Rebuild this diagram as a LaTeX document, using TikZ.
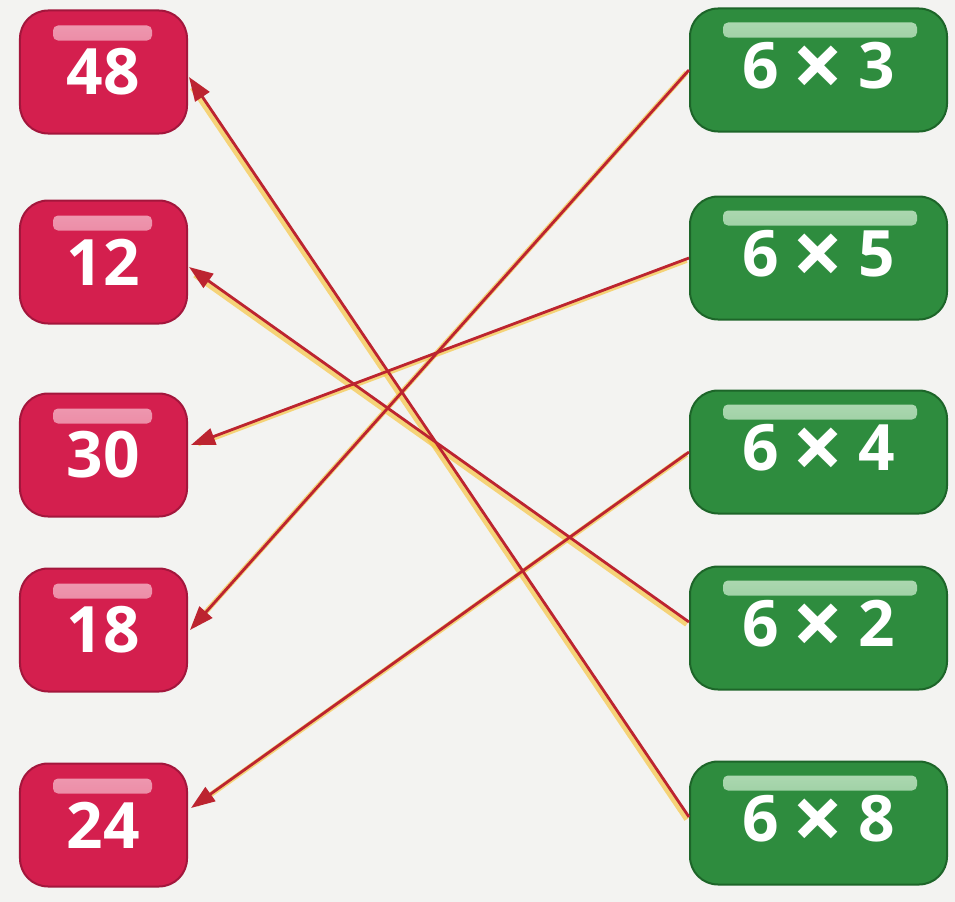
\documentclass[tikz,border=0pt]{standalone}
\usepackage{fontspec}
\setmainfont{Open Sans}
\usetikzlibrary{arrows.meta,calc}
\definecolor{bgc}{HTML}{F3F3F1}
\definecolor{redbox}{HTML}{D41F4E}
\definecolor{rededge}{HTML}{A3163C}
\definecolor{redstripe}{HTML}{F0A0B6}
\definecolor{greenbox}{HTML}{2E8C3E}
\definecolor{greenedge}{HTML}{1D6529}
\definecolor{greenstripe}{HTML}{B4DDB8}
\definecolor{linered}{HTML}{BC2430}
\definecolor{glowc}{HTML}{F6C646}
\newcommand{\bigtimes}{\hspace{0.22em}\raisebox{-0.15em}{\fontseries{sb}\selectfont\scalebox{1.4}{×}}\hspace{0.22em}}
\tikzset{
  boxbase/.style={rectangle, rounded corners=28bp, line width=2bp, text=white,
    font=\bfseries\fontsize{64bp}{70bp}\selectfont, minimum height=123bp, inner sep=0pt},
  numbox/.style={boxbase, fill=redbox, draw=rededge, minimum width=167bp,
    path picture={\shade[top color=redstripe, bottom color=redbox!60!redstripe, rounded corners=5bp]
      ([xshift=33bp,yshift=-15bp]path picture bounding box.north west) rectangle
      ([xshift=-35bp,yshift=-30bp]path picture bounding box.north east);}},
  prodbox/.style={boxbase, fill=greenbox, draw=greenedge, minimum width=257bp,
    path picture={\shade[top color=greenstripe, bottom color=greenbox!60!greenstripe, rounded corners=5bp]
      ([xshift=33bp,yshift=-14bp]path picture bounding box.north west) rectangle
      ([xshift=-30bp,yshift=-29bp]path picture bounding box.north east);}},
  glow/.style={draw=glowc, line width=5bp, opacity=0.7, transform canvas={xshift=-2.4bp,yshift=-2.4bp}, shorten >=10bp},
  link/.style={draw=linered, line width=2.8bp, -{Triangle[length=24bp,width=17bp]}}
}
\begin{document}
\begin{tikzpicture}[x=1bp,y=-1bp]
\fill[bgc] (0,0) rectangle (955,902);
\useasboundingbox (0,0) rectangle (955,902);
% left boxes
\node[numbox] (l48) at (103.5,72) {48};
\node[numbox] (l12) at (103.5,262) {12};
\node[numbox] (l30) at (103.5,455) {30};
\node[numbox] (l18) at (103.5,630) {18};
\node[numbox] (l24) at (103.5,825) {24};
% right boxes
\node[prodbox] (r3) at (818.5,70) {6\bigtimes3};
\node[prodbox] (r5) at (818.5,258) {6\bigtimes5};
\node[prodbox] (r4) at (818.5,452) {6\bigtimes4};
\node[prodbox] (r2) at (818.5,628) {6\bigtimes2};
\node[prodbox] (r8) at (818.5,823) {6\bigtimes8};
% glow
\draw[glow] (r3.west) -- ([xshift=2bp]l18.east);
\draw[glow] (r5.west) -- ([xshift=3bp,yshift=10bp]l30.east);
\draw[glow] (r4.west) -- ([xshift=3bp,yshift=17bp]l24.east);
\draw[glow] ([yshift=6bp]r2.west) -- ([xshift=1bp,yshift=-5bp]l12.east);
\draw[glow] ([yshift=6bp]r8.west) -- ([xshift=1bp,yshift=-5bp]l48.east);
% links
\draw[link] (r3.west) -- ([xshift=2bp]l18.east);
\draw[link] (r5.west) -- ([xshift=3bp,yshift=10bp]l30.east);
\draw[link] (r4.west) -- ([xshift=3bp,yshift=17bp]l24.east);
\draw[link] ([yshift=6bp]r2.west) -- ([xshift=1bp,yshift=-5bp]l12.east);
\draw[link] ([yshift=6bp]r8.west) -- ([xshift=1bp,yshift=-5bp]l48.east);
\end{tikzpicture}
\end{document}
